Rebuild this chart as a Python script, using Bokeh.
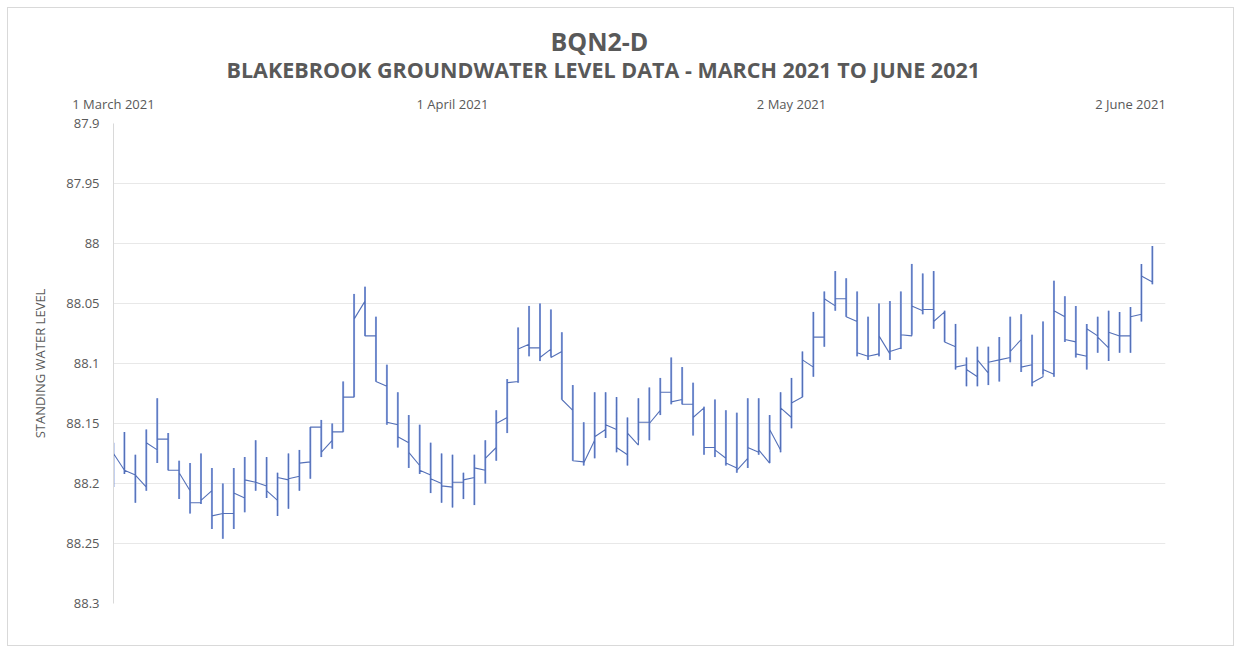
import datetime as dt
from bokeh.plotting import figure
from bokeh.models import Range1d, FixedTicker, CustomJSTickFormatter, Title
from bokeh.embed import file_html
from bokeh.resources import INLINE

# ---------------- data ----------------
first_day = dt.datetime(2021, 3, 1)
n_days = 96
dates = [first_day + dt.timedelta(days=i) for i in range(n_days)]

tick_dates = [dt.datetime(2021, 3, 1), dt.datetime(2021, 4, 1),
              dt.datetime(2021, 5, 2), dt.datetime(2021, 6, 2)]
y_ticks = [87.9, 87.95, 88.0, 88.05, 88.1, 88.15, 88.2, 88.25, 88.3]

# daily spike extremes (upper = smaller level, lower = larger level)
spike_top = [88.166, 88.157, 88.176, 88.155, 88.129, 88.158, 88.181, 88.183, 88.175, 88.187,
             88.200, 88.187, 88.178, 88.164, 88.178, 88.191, 88.175, 88.172, 88.153, 88.147,
             88.150, 88.115, 88.042, 88.036, 88.061, 88.101, 88.124, 88.143, 88.151, 88.166,
             88.175, 88.176, 88.191, 88.176, 88.164, 88.139, 88.113, 88.070, 88.052, 88.050,
             88.055, 88.074, 88.118, 88.149, 88.124, 88.124, 88.128, 88.145, 88.129, 88.120,
             88.112, 88.095, 88.103, 88.116, 88.136, 88.130, 88.139, 88.141, 88.129, 88.129,
             88.143, 88.124, 88.112, 88.090, 88.057, 88.040, 88.023, 88.029, 88.040, 88.061,
             88.050, 88.048, 88.040, 88.017, 88.025, 88.023, 88.056, 88.067, 88.095, 88.086,
             88.086, 88.078, 88.061, 88.059, 88.076, 88.065, 88.031, 88.044, 88.052, 88.067,
             88.061, 88.056, 88.057, 88.053, 88.017, 88.002]
spike_bottom = [88.203, 88.192, 88.216, 88.206, 88.183, 88.189, 88.213, 88.225, 88.217, 88.238,
                88.246, 88.238, 88.224, 88.206, 88.212, 88.227, 88.221, 88.206, 88.196, 88.178,
                88.171, 88.157, 88.128, 88.077, 88.115, 88.151, 88.170, 88.187, 88.192, 88.208,
                88.216, 88.220, 88.213, 88.218, 88.200, 88.181, 88.158, 88.116, 88.094, 88.098,
                88.094, 88.130, 88.181, 88.185, 88.179, 88.162, 88.174, 88.185, 88.164, 88.164,
                88.143, 88.134, 88.134, 88.160, 88.176, 88.178, 88.185, 88.191, 88.187, 88.176,
                88.183, 88.174, 88.154, 88.128, 88.111, 88.086, 88.056, 88.061, 88.094, 88.097,
                88.094, 88.097, 88.088, 88.076, 88.059, 88.071, 88.082, 88.105, 88.119, 88.119,
                88.118, 88.115, 88.099, 88.107, 88.119, 88.109, 88.111, 88.082, 88.095, 88.105,
                88.091, 88.098, 88.091, 88.091, 88.065, 88.034]
# level just after each daily spike
day_start = [88.175, 88.189, 88.193, 88.166, 88.163, 88.189, 88.191, 88.216, 88.214, 88.227,
             88.225, 88.208, 88.197, 88.199, 88.206, 88.195, 88.196, 88.183, 88.153, 88.174,
             88.157, 88.128, 88.063, 88.077, 88.115, 88.149, 88.161, 88.174, 88.189, 88.196,
             88.202, 88.199, 88.197, 88.187, 88.179, 88.150, 88.116, 88.088, 88.087, 88.095,
             88.095, 88.130, 88.181, 88.183, 88.161, 88.151, 88.170, 88.158, 88.149, 88.150,
             88.124, 88.132, 88.134, 88.145, 88.170, 88.172, 88.183, 88.189, 88.170, 88.172,
             88.155, 88.137, 88.133, 88.097, 88.078, 88.046, 88.046, 88.061, 88.091, 88.094,
             88.077, 88.090, 88.076, 88.052, 88.055, 88.065, 88.082, 88.103, 88.105, 88.097,
             88.099, 88.097, 88.090, 88.103, 88.116, 88.105, 88.056, 88.080, 88.092, 88.071,
             88.078, 88.074, 88.077, 88.061, 88.027, 88.034]
# level just before the next daily spike
day_end = [88.189, 88.193, 88.203, 88.172, 88.163, 88.189, 88.206, 88.216, 88.206, 88.225,
           88.225, 88.212, 88.199, 88.202, 88.214, 88.197, 88.194, 88.182, 88.153, 88.164,
           88.157, 88.128, 88.048, 88.077, 88.119, 88.151, 88.166, 88.185, 88.193, 88.200,
           88.203, 88.199, 88.195, 88.189, 88.170, 88.145, 88.115, 88.084, 88.087, 88.088,
           88.090, 88.139, 88.182, 88.164, 88.155, 88.155, 88.176, 88.168, 88.149, 88.139,
           88.124, 88.130, 88.134, 88.137, 88.170, 88.179, 88.187, 88.179, 88.174, 88.183,
           88.172, 88.145, 88.128, 88.103, 88.078, 88.052, 88.046, 88.065, 88.094, 88.092,
           88.092, 88.087, 88.077, 88.056, 88.055, 88.057, 88.086, 88.101, 88.111, 88.108,
           88.097, 88.095, 88.080, 88.101, 88.111, 88.109, 88.061, 88.082, 88.094, 88.077,
           88.087, 88.077, 88.077, 88.059, 88.032, 88.034]

title_text = "BQN2-D"
subtitle_text = "BLAKEBROOK GROUNDWATER LEVEL DATA - MARCH 2021 TO JUNE 2021"
y_label = "STANDING WATER LEVEL"

# ---------------- build path ----------------
path_x, path_y = [], []
for i in range(n_days):
    if i > 0:
        path_x.append(dates[i]); path_y.append(day_end[i - 1])
    path_x += [dates[i]] * 3
    path_y += [spike_top[i], spike_bottom[i], day_start[i]]

def ms(d):
    return (d - dt.datetime(1970, 1, 1)).total_seconds() * 1000.0

GRAY = "#595959"
FONT = "Open Sans"

p = figure(width=1227, height=639, output_backend="svg", toolbar_location=None,
           x_axis_type="datetime", x_axis_location="above",
           x_range=Range1d(ms(first_day), ms(first_day + dt.timedelta(days=96.2))),
           y_range=Range1d(88.3, 87.9),
           min_border_left=105, min_border_right=70, min_border_top=115, min_border_bottom=44)
p.outline_line_color = None
p.background_fill_color = "white"
p.border_fill_color = "white"
p.styles = {"border": "1px solid #d9d9d9", "margin-left": "7px", "margin-top": "7px"}

p.segment(x0=dates, y0=spike_top, x1=dates, y1=spike_bottom,
          line_color="#8aa3e3", line_width=2.0, line_alpha=0.9)
p.line(path_x, path_y, line_color="#5470b8", line_width=1.1)

# x axis (top)
xa = p.xaxis[0]
xa.ticker = FixedTicker(ticks=[ms(d) for d in tick_dates])
xa.formatter = CustomJSTickFormatter(code="""
const m = ['January','February','March','April','May','June','July','August','September','October','November','December'];
const d = new Date(tick);
return d.getUTCDate() + ' ' + m[d.getUTCMonth()] + ' ' + d.getUTCFullYear();
""")
xa.axis_line_color = None
xa.major_tick_line_color = None
xa.minor_tick_line_color = None
xa.major_tick_out = 0
xa.major_tick_in = 0
xa.major_label_text_font = FONT
xa.major_label_text_font_size = "13px"
xa.major_label_text_color = GRAY
xa.major_label_standoff = 11

# y axis
ya = p.yaxis[0]
ya.ticker = FixedTicker(ticks=y_ticks)
ya.formatter = CustomJSTickFormatter(code="return String(Math.round(tick*100)/100);")
ya.axis_line_color = "#d9d9d9"
ya.major_tick_line_color = None
ya.minor_tick_line_color = None
ya.major_tick_out = 0
ya.major_tick_in = 0
ya.major_label_text_font = FONT
ya.major_label_text_font_size = "13px"
ya.major_label_text_color = GRAY
ya.major_label_standoff = 14
ya.axis_label = y_label
ya.axis_label_text_font = FONT
ya.axis_label_text_font_size = "13px"
ya.axis_label_text_font_style = "normal"
ya.axis_label_text_color = GRAY
ya.axis_label_standoff = 14

p.xgrid.grid_line_color = None
p.ygrid.grid_line_color = "#e8e8e8"
p.ygrid.ticker = FixedTicker(ticks=y_ticks)

p.add_layout(Title(text=subtitle_text, align="left", offset=113, standoff=15,
                   text_font=FONT, text_font_size="21.5px", text_font_style="bold",
                   text_color=GRAY), "above")
p.add_layout(Title(text=title_text, align="left", offset=437, standoff=-25,
                   text_font=FONT, text_font_size="25px", text_font_style="bold",
                   text_color=GRAY), "above")

open("out.html", "w").write(file_html(p, INLINE))
